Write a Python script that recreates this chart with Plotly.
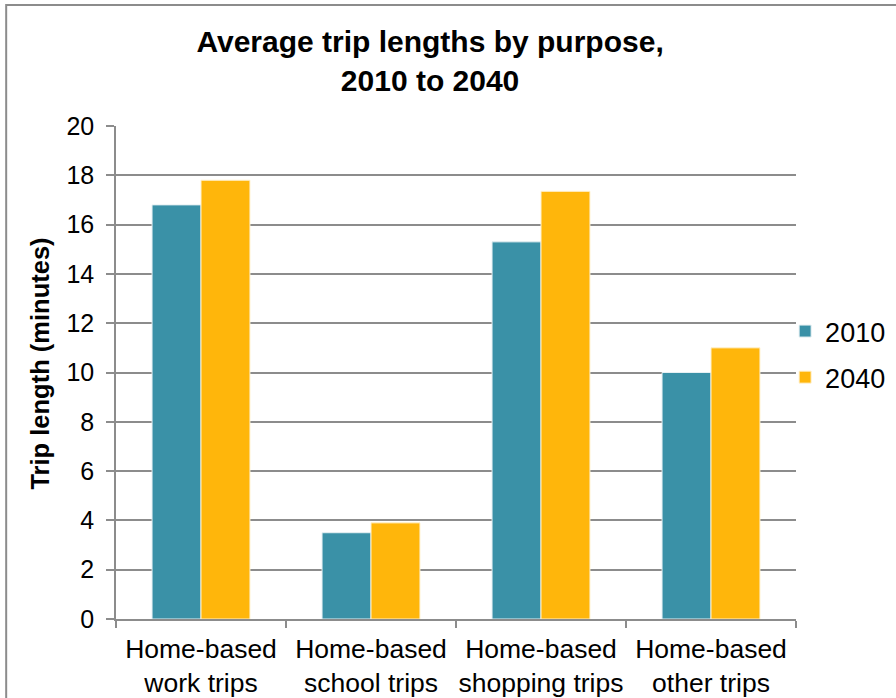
import plotly.graph_objects as go

# Trip purposes and average trip lengths (minutes)
categories = [
    "Home-based<br>work trips",
    "Home-based<br>school trips",
    "Home-based<br>shopping trips",
    "Home-based<br>other trips",
]
values_2010 = [16.8, 3.5, 15.3, 10.0]
values_2040 = [17.8, 3.9, 17.35, 11.0]
y_ticks = [0, 2, 4, 6, 8, 10, 12, 14, 16, 18, 20]

TEAL = "#3A91A7"
GOLD = "#FFB60B"
GRID = "#8C8C8C"
FONT = "Liberation Sans, Arial, sans-serif"

fig = go.Figure()
fig.add_trace(go.Bar(
    x=categories, y=values_2010, name="2010",
    marker=dict(color=TEAL, line=dict(color="#E6F0F3", width=1)),
    legendgroup="a",
))
fig.add_trace(go.Bar(
    x=categories, y=values_2040, name="2040",
    marker=dict(color=GOLD, line=dict(color="#FFF1CF", width=1)),
    legendgroup="b",
))

fig.update_layout(
    width=896, height=698,
    margin=dict(l=116, r=100, t=126, b=79, autoexpand=False),
    paper_bgcolor="white", plot_bgcolor="white",
    font=dict(family=FONT, color="black", size=25),
    barmode="group", bargap=0.424, bargroupgap=0,
    title=dict(
        text="<b>Average trip lengths by purpose,<br>2010 to 2040</b>",
        x=0.48, xanchor="center", y=0.925, yanchor="top",
        font=dict(family=FONT, size=30, color="black"),
    ),
    legend=dict(
        x=0.984, xanchor="left", y=0.5365, yanchor="middle",
        font=dict(family=FONT, size=27, color="black"),
        tracegroupgap=8, traceorder="grouped",
        bgcolor="rgba(0,0,0,0)",
    ),
    showlegend=True,
)

fig.update_xaxes(
    type="category", automargin=False, tickangle=0,
    showline=True, linecolor=GRID, linewidth=1.5,
    ticks="outside", tickson="boundaries", ticklen=7, tickcolor=GRID, tickwidth=1.5,
    ticklabelstandoff=5,
    showgrid=False,
    tickfont=dict(family=FONT, size=26.5, color="black"),
)
fig.update_yaxes(
    range=[0, 20], tickvals=y_ticks, automargin=False,
    showline=True, linecolor=GRID, linewidth=1.5,
    ticks="outside", ticklen=8, tickcolor=GRID, tickwidth=1.5,
    ticklabelstandoff=7,
    showgrid=True, gridcolor=GRID, gridwidth=1.5,
    zeroline=False,
    tickfont=dict(family=FONT, size=25, color="black"),
)

# Y-axis title
fig.add_annotation(
    text="<b>Trip length (minutes)</b>", textangle=-90,
    xref="paper", yref="paper", x=-0.1118, y=0.518,
    xanchor="center", yanchor="middle", showarrow=False,
    font=dict(family=FONT, size=25.5, color="black"),
)

# Outer frame around the chart
fig.add_shape(
    type="rect", xref="paper", yref="paper",
    x0=-0.1615, x1=1.25, y0=-0.2, y1=1.2454,
    line=dict(color="#8C8C8C", width=2), fillcolor="rgba(0,0,0,0)",
    layer="below",
)

fig.write_html("out.html")
